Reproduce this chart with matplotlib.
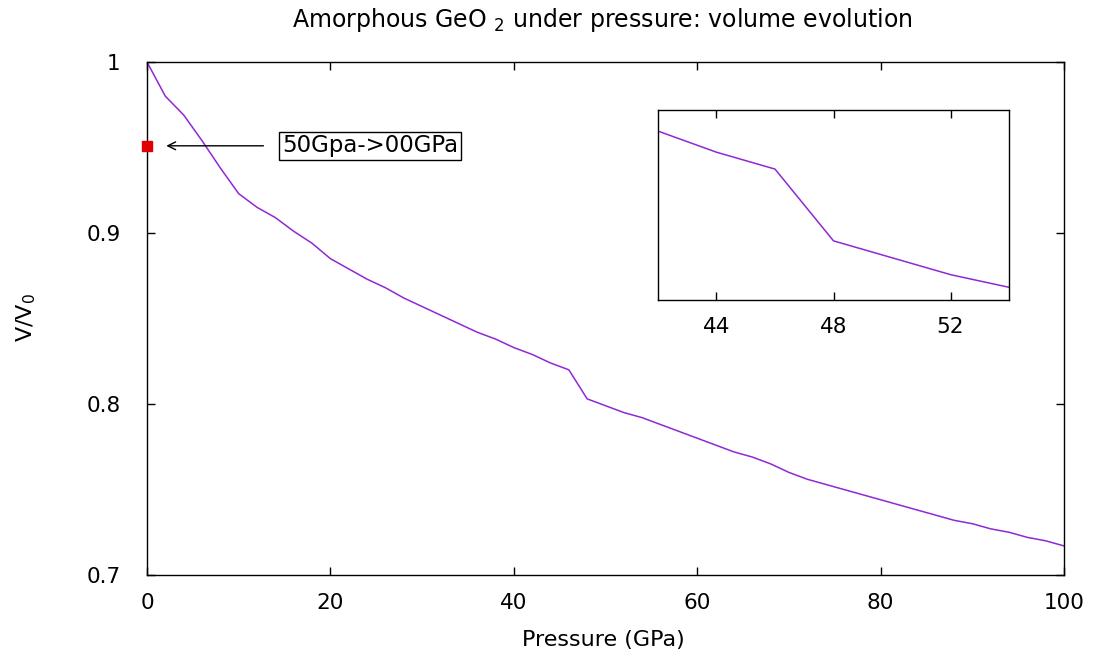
import matplotlib
matplotlib.use("Agg")
import matplotlib.pyplot as plt

plt.rcParams['font.family'] = ['DejaVu Sans']
plt.rcParams['mathtext.fontset'] = 'dejavusans'

# pressure (GPa) and relative volume V/V0
pressure = list(range(0, 101, 2))
volume = [
    1.000, 0.980, 0.969, 0.954, 0.938, 0.923, 0.915, 0.909, 0.901, 0.894,
    0.885, 0.879, 0.873, 0.868, 0.862, 0.857, 0.852, 0.847, 0.842, 0.838,
    0.833, 0.829, 0.824, 0.820, 0.803, 0.799, 0.795, 0.792, 0.788, 0.784,
    0.780, 0.776, 0.772, 0.769, 0.765, 0.760, 0.756, 0.753, 0.750, 0.747,
    0.744, 0.741, 0.738, 0.735, 0.732, 0.730, 0.727, 0.725, 0.722, 0.720,
    0.717,
]

# decompression point 50 GPa -> 0 GPa
release_p = [0]
release_v = [0.951]
release_label = "50Gpa->00GPa"

x_ticks = [0, 20, 40, 60, 80, 100]
y_ticks = [0.7, 0.8, 0.9, 1.0]
y_ticklabels = ["0.7", "0.8", "0.9", "1"]
inset_ticks = [44, 48, 52]

line_color = "#9028d4"

fig = plt.figure(figsize=(10.93, 6.57), dpi=100)
ax = fig.add_axes([0.1345, 0.1248, 0.839, 0.7808])

ax.plot(pressure, volume, color=line_color, lw=1.1)
ax.plot(release_p, release_v, "s", color="#e00000", ms=7, clip_on=False, zorder=5)

ax.annotate("", xy=(1.8, release_v[0]), xytext=(13.0, release_v[0]),
            arrowprops=dict(arrowstyle="->", color="black", lw=1.0,
                            mutation_scale=14))
ax.text(14.7, release_v[0], release_label, fontsize=16.5, va="center", ha="left",
        bbox=dict(boxstyle="square,pad=0.12", fc="white", ec="black", lw=1.0))

ax.set_xlim(0, 100)
ax.set_ylim(0.7, 1.0)
ax.set_xticks(x_ticks)
ax.set_yticks(y_ticks)
ax.set_yticklabels(y_ticklabels)
ax.tick_params(direction="in", top=True, right=True, length=6, width=1,
               labelsize=15.5)
ax.tick_params(axis="x", pad=13)
ax.tick_params(axis="y", pad=19)
for s in ax.spines.values():
    s.set_linewidth(1.0)

fig.text(603 / 1093, 1 - 640 / 657, "Pressure (GPa)", fontsize=16,
         ha="center", va="center")
fig.text(26 / 1093, 1 - 318 / 657, "V/V$_0$", fontsize=16, rotation=90,
         ha="center", va="center")
fig.text(602 / 1093, 1 - 27 / 657,
         "Amorphous GeO $_2$ under pressure: volume evolution",
         fontsize=17, ha="center", va="baseline")

# inset zoom around the 46-48 GPa step
axi = fig.add_axes([0.602, 0.5434, 0.3212, 0.2892])
axi.plot(pressure, volume, color=line_color, lw=1.1)
axi.set_xlim(42, 54)
axi.set_ylim(0.789, 0.834)
axi.set_xticks(inset_ticks)
axi.set_yticks([])
axi.tick_params(direction="in", top=True, length=6, width=1, labelsize=15.5, pad=12)
for s in axi.spines.values():
    s.set_linewidth(1.0)

fig.savefig("out.png", dpi=100)
